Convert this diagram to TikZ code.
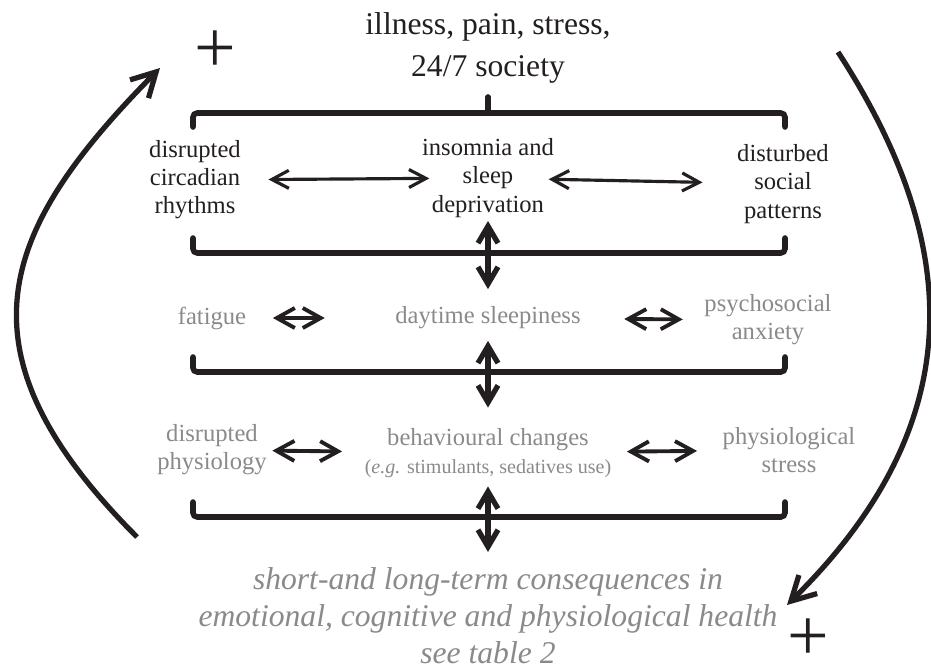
\documentclass[tikz,border=0pt]{standalone}
\usepackage{fontspec}
\setmainfont{Liberation Serif}
\usetikzlibrary{arrows.meta}
\definecolor{ink}{HTML}{231F20}
\definecolor{softgrey}{HTML}{8A8A8A}

\begin{document}
\begin{tikzpicture}[x=0.1mm, y=-0.1mm,
    every node/.style={inner sep=0pt, align=center},
    bigtxt/.style={font=\fontsize{9}{12}\selectfont, text=ink},
    lvlone/.style={font=\fontsize{7}{8}\selectfont, text=ink},
    lvltwo/.style={font=\fontsize{7}{8}\selectfont, text=softgrey},
    plussign/.style={font=\fontsize{21}{21}\selectfont, text=ink},
    brace/.style={ink, line width=1.6pt, rounded corners=1.2pt, line cap=round},
    toparrow/.style={ink, line width=0.9pt, {Straight Barb[length=1.7mm,width=1.8mm]}-{Straight Barb[length=1.7mm,width=1.8mm]}},
    harrow/.style={ink, line width=1.1pt, {Straight Barb[length=1.8mm,width=2mm]}-{Straight Barb[length=1.8mm,width=2mm]}},
    varrow/.style={ink, line width=1.5pt, {Straight Barb[length=1.7mm,width=2mm]}-{Straight Barb[length=1.7mm,width=2mm]}},
    feedback/.style={ink, line width=1.5pt, -{Straight Barb[length=2.4mm,width=2.6mm]}}]

                \useasboundingbox (0,0) rectangle (931,672);

                % --- Cause and the two plus signs ---
                \node[bigtxt, anchor=north] (cause) at (488,12) {illness, pain, stress,\\24/7 society};
                \node[plussign] (plusA) at (215,52) {+};
                \node[plussign] (plusB) at (808,640) {+};

                % --- First level ---
                \node[lvlone] (circ) at (195,180) {disrupted\\circadian\\rhythms};
                \node[lvlone] (insom) at (488,178) {insomnia and\\sleep\\deprivation};
                \node[lvlone] (social) at (783,184) {disturbed\\social\\patterns};

                % --- Second level ---
                \node[lvltwo] (fat) at (212,318) {fatigue};
                \node[lvltwo] (day) at (488,318) {daytime sleepiness};
                \node[lvltwo] (psy) at (768,320) {psychosocial\\anxiety};

                % --- Third level ---
                \node[lvltwo] (dphys) at (212,450) {disrupted\\physiology};
                \node[lvltwo] (behav) at (488,453) {behavioural changes\\{\fontsize{5.7}{7}\selectfont (\textit{e.g.} stimulants, sedatives use)}};
                \node[lvltwo] (pstress) at (789,450) {physiological\\stress};

                % --- Outcome ---
                \node[bigtxt, text=softgrey, font=\fontsize{9}{10.5}\selectfont\itshape, anchor=north] (conseq) at (488,567)
                {short-and long-term consequences in\\emotional, cognitive and physiological health\\see table 2};

                % --- Brackets ---
                \draw[brace] (193,127) -- (193,113) -- (785,113) -- (785,127);
                \draw[brace] (488,113) -- (488,97);
                \foreach \yb in {253,372,517}
                    \draw[brace] (193,\yb-15) -- (193,\yb) -- (785,\yb) -- (785,\yb-15);

                % --- Links inside the levels ---
                \draw[toparrow, shorten <=2.7mm, shorten >=-0.8mm] (circ) -- (insom);
                \draw[toparrow, shorten <=-0.6mm, shorten >=3.4mm] (insom) -- (social);
                \draw[harrow, shorten <=2.6mm, shorten >=7mm] (fat) -- (day);
                \draw[harrow, shorten <=4.3mm, shorten >=2.1mm] (day) -- (psy);
                \draw[harrow, shorten <=0.5mm, shorten >=2.2mm] (dphys) -- (behav);
                \draw[harrow, shorten <=1.5mm, shorten >=2.5mm] (behav) -- (pstress);

                % --- Links between the levels ---
                \draw[varrow, shorten <=0.3mm, shorten >=1.7mm] (insom) -- (day);
                \draw[varrow, shorten <=1.1mm, shorten >=2mm] (day) -- (behav);
                \draw[varrow, shorten <=0.8mm, shorten >=1.5mm] (behav) -- (conseq);

                % --- Feedback loops ---
                \coordinate (loopLa) at (137,537);
                \coordinate (loopLb) at (160,68);
                \coordinate (loopRa) at (838,52);
                \coordinate (loopRb) at (787,605);
                \draw[feedback] (loopLa) .. controls (-50,350) and (0,230) .. (loopLb);
                \draw[feedback] (loopRa) .. controls (960,240) and (975,420) .. (loopRb);

            \end{tikzpicture}
\end{document}
